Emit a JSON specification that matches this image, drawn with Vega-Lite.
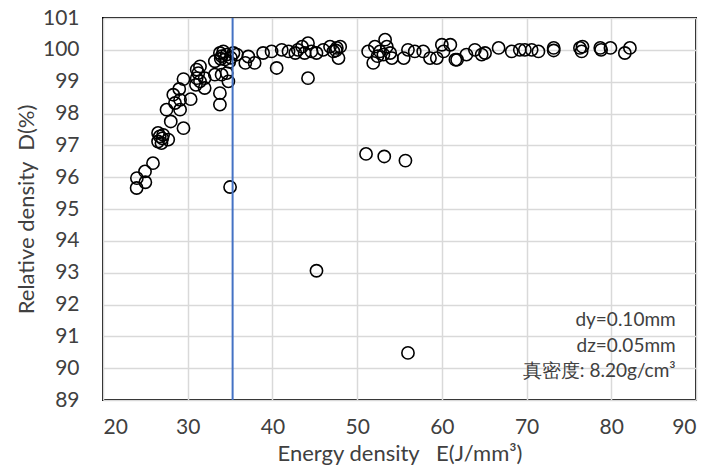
{
  "$schema": "https://vega.github.io/schema/vega-lite/v6.json",
  "autosize": "none",
  "width": 593,
  "height": 382,
  "padding": {"left": 103, "top": 18, "right": 14, "bottom": 70},
  "background": "white",
  "config": {
    "font": "Lato",
    "view": {"stroke": "black", "strokeWidth": 2},
    "axis": {
      "gridColor": "#d9d9d9", "gridWidth": 1.5, "ticks": false, "domain": false, "labelOverlap": false,
      "labelFont": "Lato", "labelFontSize": 21, "labelColor": "#404040",
      "titleFont": "Lato", "titleFontSize": 22, "titleColor": "#404040", "titleFontWeight": "normal"
    }
  },
  "datasets": {
    "pts": [
      {"E": 23.97, "D": 95.66}, {"E": 24.0, "D": 95.97}, {"E": 25.0, "D": 95.84}, {"E": 24.96, "D": 96.18},
      {"E": 25.9, "D": 96.44}, {"E": 26.5, "D": 97.12}, {"E": 26.5, "D": 97.39}, {"E": 27.1, "D": 97.33},
      {"E": 26.9, "D": 97.07}, {"E": 27.7, "D": 97.18}, {"E": 26.7, "D": 97.28}, {"E": 27.0, "D": 97.22},
      {"E": 27.5, "D": 98.12}, {"E": 28.0, "D": 97.75}, {"E": 28.3, "D": 98.59}, {"E": 28.5, "D": 98.33},
      {"E": 29.0, "D": 98.77}, {"E": 29.1, "D": 98.43}, {"E": 29.1, "D": 98.12}, {"E": 29.5, "D": 97.54},
      {"E": 29.5, "D": 99.08}, {"E": 30.35, "D": 98.45}, {"E": 31.06, "D": 99.38}, {"E": 31.45, "D": 99.48},
      {"E": 31.06, "D": 99.11}, {"E": 31.45, "D": 99.01}, {"E": 30.97, "D": 98.9}, {"E": 32.0, "D": 98.8},
      {"E": 32.0, "D": 99.11}, {"E": 31.25, "D": 99.27}, {"E": 33.2, "D": 99.22}, {"E": 33.2, "D": 99.64},
      {"E": 33.8, "D": 98.64}, {"E": 33.8, "D": 98.28}, {"E": 33.8, "D": 99.9}, {"E": 34.0, "D": 99.8},
      {"E": 33.9, "D": 99.72}, {"E": 34.2, "D": 99.95}, {"E": 34.4, "D": 99.7}, {"E": 34.6, "D": 99.85},
      {"E": 34.0, "D": 99.22}, {"E": 34.6, "D": 99.27}, {"E": 34.8, "D": 99.01}, {"E": 35.0, "D": 95.69},
      {"E": 34.9, "D": 99.62}, {"E": 35.4, "D": 99.9}, {"E": 35.1, "D": 99.75}, {"E": 35.8, "D": 99.85},
      {"E": 36.8, "D": 99.59}, {"E": 37.15, "D": 99.79}, {"E": 37.9, "D": 99.59}, {"E": 38.9, "D": 99.9},
      {"E": 39.9, "D": 99.95}, {"E": 40.5, "D": 99.43}, {"E": 41.1, "D": 100.0}, {"E": 41.9, "D": 99.95},
      {"E": 42.7, "D": 99.9}, {"E": 43.0, "D": 100.0}, {"E": 43.5, "D": 100.1}, {"E": 43.8, "D": 99.9},
      {"E": 44.2, "D": 100.21}, {"E": 44.2, "D": 99.11}, {"E": 44.6, "D": 99.95}, {"E": 45.2, "D": 99.9},
      {"E": 45.2, "D": 93.06}, {"E": 46.0, "D": 100.0}, {"E": 46.8, "D": 100.1}, {"E": 47.2, "D": 99.95},
      {"E": 47.6, "D": 100.06}, {"E": 47.8, "D": 99.74}, {"E": 48.0, "D": 100.1}, {"E": 47.5, "D": 99.98},
      {"E": 51.05, "D": 96.73}, {"E": 53.2, "D": 96.65}, {"E": 55.7, "D": 96.52}, {"E": 56.0, "D": 90.48},
      {"E": 51.3, "D": 99.95}, {"E": 51.9, "D": 99.59}, {"E": 52.1, "D": 100.1}, {"E": 52.7, "D": 99.95},
      {"E": 53.3, "D": 100.32}, {"E": 53.1, "D": 99.85}, {"E": 53.5, "D": 100.1}, {"E": 53.9, "D": 99.9},
      {"E": 54.1, "D": 99.74}, {"E": 52.4, "D": 99.8}, {"E": 55.5, "D": 99.74}, {"E": 56.0, "D": 100.0},
      {"E": 56.8, "D": 99.95}, {"E": 57.8, "D": 99.95}, {"E": 58.6, "D": 99.74}, {"E": 59.4, "D": 99.74},
      {"E": 60.0, "D": 100.16}, {"E": 60.2, "D": 99.95}, {"E": 61.0, "D": 100.16}, {"E": 61.6, "D": 99.69},
      {"E": 61.8, "D": 99.69}, {"E": 62.9, "D": 99.85}, {"E": 63.9, "D": 100.0}, {"E": 64.7, "D": 99.85},
      {"E": 65.1, "D": 99.9}, {"E": 66.7, "D": 100.06}, {"E": 68.25, "D": 99.95}, {"E": 69.2, "D": 100.0},
      {"E": 69.8, "D": 100.0}, {"E": 70.6, "D": 100.0}, {"E": 71.4, "D": 99.95}, {"E": 73.2, "D": 100.06},
      {"E": 73.2, "D": 99.98}, {"E": 76.3, "D": 100.06}, {"E": 76.5, "D": 99.95}, {"E": 76.6, "D": 100.1},
      {"E": 78.7, "D": 100.06}, {"E": 78.8, "D": 100.0}, {"E": 79.9, "D": 100.06}, {"E": 81.6, "D": 99.9},
      {"E": 82.2, "D": 100.06}
    ],
    "notes": [
      {"label": "dy=0.10mm", "E": 87.6, "D": 91.52},
      {"label": "dz=0.05mm", "E": 87.6, "D": 90.7},
      {"label": "真密度: 8.20g/cm³", "E": 87.6, "D": 89.9}
    ]
  },
  "layer": [
    {
      "data": {"name": "pts"},
      "mark": {"type": "point", "shape": "circle", "filled": false, "stroke": "black", "strokeWidth": 1.6, "size": 150, "opacity": 1},
      "encoding": {
        "x": {"field": "E", "type": "quantitative", "scale": {"domain": [20, 90], "nice": false, "zero": false},
              "axis": {"values": [20, 30, 40, 50, 60, 70, 80, 90], "labelOverlap": false, "title": "Energy density\u00a0\u00a0\u00a0E(J/mm³)", "labelPadding": 16, "titlePadding": 6}},
        "y": {"field": "D", "type": "quantitative", "scale": {"domain": [89, 101], "nice": false, "zero": false},
              "axis": {"values": [89, 90, 91, 92, 93, 94, 95, 96, 97, 98, 99, 100, 101], "tickCount": 13, "labelOverlap": false, "labelBound": false, "title": "Relative density\u00a0\u00a0D(%)", "labelPadding": 24, "titlePadding": 4}}
      }
    },
    {
      "data": {"values": [{"E": 35.3}]},
      "mark": {"type": "rule", "color": "#4472C4", "strokeWidth": 2},
      "encoding": {"x": {"field": "E", "type": "quantitative"}}
    },
    {
      "data": {"name": "notes"},
      "mark": {"type": "text", "align": "right", "baseline": "middle", "font": "Lato", "fontSize": 19, "color": "#404040"},
      "encoding": {
        "x": {"field": "E", "type": "quantitative"},
        "y": {"field": "D", "type": "quantitative"},
        "text": {"field": "label"}
      }
    }
  ]
}
